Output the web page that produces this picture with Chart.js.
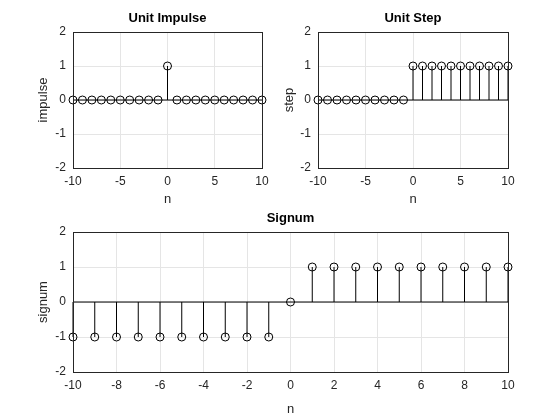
<!DOCTYPE html>
<html><head><meta charset="utf-8">
<script src="https://cdn.jsdelivr.net/npm/chart.js@4"></script>
<style>
body{margin:0;background:#fff;width:560px;height:420px;position:relative;overflow:hidden}
canvas{position:absolute}
</style></head><body>
<canvas id="c1" style="left:0;top:0;width:280px;height:210px"></canvas>
<canvas id="c2" style="left:280px;top:0;width:280px;height:210px"></canvas>
<canvas id="c3" style="left:0;top:210px;width:560px;height:210px"></canvas>
<script>
var nValues = [-10,-9,-8,-7,-6,-5,-4,-3,-2,-1,0,1,2,3,4,5,6,7,8,9,10];
var impulseValues = [0,0,0,0,0,0,0,0,0,0,1,0,0,0,0,0,0,0,0,0,0];
var stepValues = [0,0,0,0,0,0,0,0,0,0,1,1,1,1,1,1,1,1,1,1,1];
var signumValues = [-1,-1,-1,-1,-1,-1,-1,-1,-1,-1,0,1,1,1,1,1,1,1,1,1,1];
var topXTicks = [-10,-5,0,5,10];
var bottomXTicks = [-10,-8,-6,-4,-2,0,2,4,6,8,10];
var yTicks = [-2,-1,0,1,2];

var FONT = 'Liberation Sans, Arial, sans-serif';

var stemPlugin = {
    id: 'stems',
    beforeDatasetsDraw: function(chart) {
        var ctx = chart.ctx, xs = chart.scales.x, ys = chart.scales.y;
        var y0 = ys.getPixelForValue(0);
        ctx.save();
        ctx.strokeStyle = '#000';
        ctx.lineWidth = 1;
        ctx.beginPath();
        ctx.moveTo(xs.getPixelForValue(-10), y0);
        ctx.lineTo(xs.getPixelForValue(10), y0);
        chart.data.datasets[0].data.forEach(function(p) {
            if (p.y === 0) return;
            var px = xs.getPixelForValue(p.x);
            ctx.moveTo(px, y0);
            ctx.lineTo(px, ys.getPixelForValue(p.y));
        });
        ctx.stroke();
        ctx.restore();
    },
    afterDraw: function(chart) {
        var a = chart.chartArea, ctx = chart.ctx;
        ctx.save();
        ctx.strokeStyle = '#262626';
        ctx.lineWidth = 1;
        ctx.strokeRect(Math.round(a.left) + 0.5, Math.round(a.top) + 0.5,
            Math.round(a.right - a.left), Math.round(a.bottom - a.top));
        // title centred over the plot box
        ctx.fillStyle = '#000';
        ctx.font = 'bold 13px ' + FONT;
        ctx.textAlign = 'center';
        ctx.textBaseline = 'bottom';
        ctx.fillText(chart.options.plotTitle, (a.left + a.right) / 2, a.top - 7);
        ctx.restore();
    }
};

function makeStem(id, title, yLabel, values, xTicks, yWidth, yTitlePad, xHeight, padRight, padTop, padBottom) {
    new Chart(document.getElementById(id), {
        type: 'scatter',
        data: {
            datasets: [{
                data: nValues.map(function(n, i) { return {x: n, y: values[i]}; }),
                borderColor: '#000',
                backgroundColor: 'rgba(0,0,0,0)',
                borderWidth: 1,
                pointRadius: 4,
                pointHoverRadius: 4,
                showLine: false,
                clip: false
            }]
        },
        options: {
            plotTitle: title,
            responsive: false,
            animation: false,
            devicePixelRatio: 1,
            layout: {padding: {left: 0, right: padRight, top: padTop, bottom: padBottom}},
            plugins: {
                legend: {display: false},
                tooltip: {enabled: false},
                title: {display: false}
            },
            scales: {
                x: {
                    type: 'linear', min: -10, max: 10,
                    afterBuildTicks: function(s) { s.ticks = xTicks.map(function(v) { return {value: v}; }); },
                    afterFit: function(s) { s.height = xHeight; },
                    grid: {color: '#e5e5e5', drawTicks: false},
                    border: {display: false},
                    ticks: {color: '#262626', padding: 6, font: {family: FONT, size: 12}},
                    title: {display: true, text: 'n', color: '#262626', font: {family: FONT, size: 13}, padding: 0}
                },
                y: {
                    min: -2, max: 2,
                    afterBuildTicks: function(s) { s.ticks = yTicks.map(function(v) { return {value: v}; }); },
                    afterFit: function(s) { s.width = yWidth; },
                    grid: {color: '#e5e5e5', drawTicks: false},
                    border: {display: false},
                    ticks: {color: '#262626', padding: 7, font: {family: FONT, size: 12}},
                    title: {display: true, text: yLabel, color: '#262626', font: {family: FONT, size: 13}, padding: {top: yTitlePad, bottom: 0}}
                }
            }
        },
        plugins: [stemPlugin]
    });
}

document.getElementById('c1').width = 280; document.getElementById('c1').height = 210;
document.getElementById('c2').width = 280; document.getElementById('c2').height = 210;
document.getElementById('c3').width = 560; document.getElementById('c3').height = 210;

makeStem('c1', 'Unit Impulse', 'impulse', impulseValues, topXTicks, 73, 36, 39, 18, 32, 3);
makeStem('c2', 'Unit Step', 'step', stepValues, topXTicks, 38, 2, 39, 52, 32, 3);
makeStem('c3', 'Signum', 'signum', signumValues, bottomXTicks, 73, 36, 45, 52, 22, 3);
</script>
</body></html>
